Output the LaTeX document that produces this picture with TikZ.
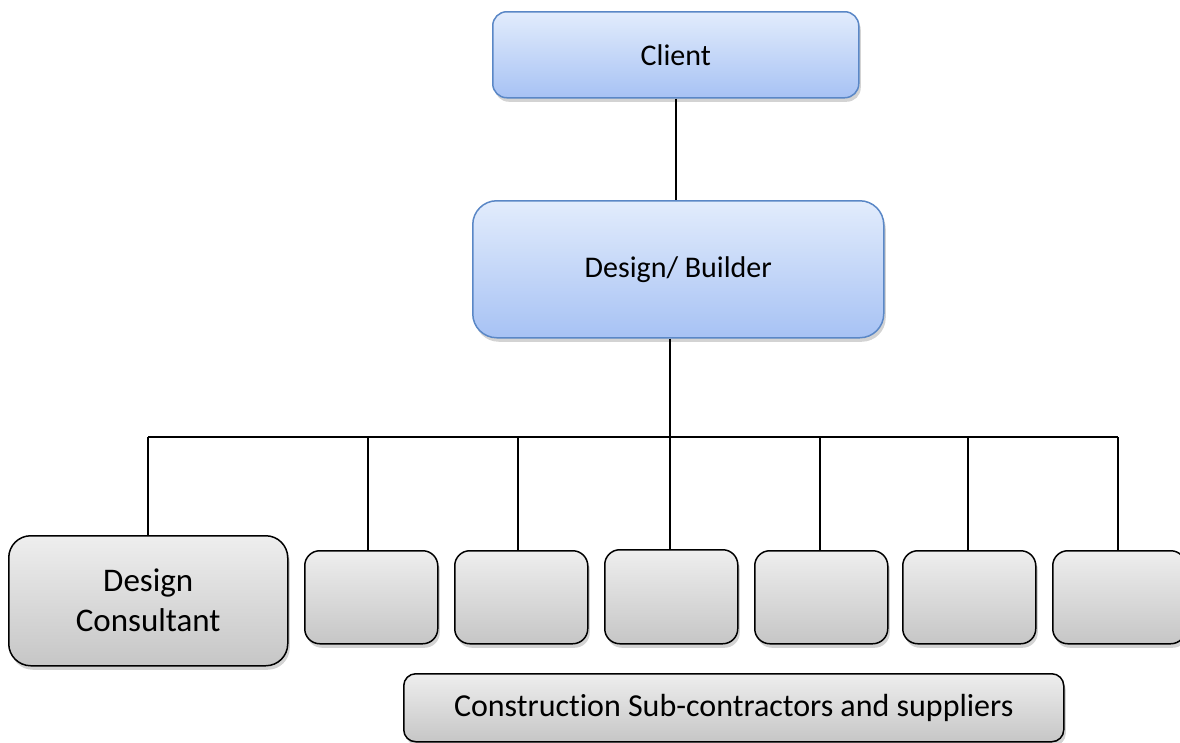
\documentclass[tikz,border=0pt]{standalone}
\usepackage{fontspec}
\setmainfont[Ligatures=NoCommon]{Carlito}
\usetikzlibrary{shadows}
\definecolor{bluetop}{HTML}{E2ECFC}
\definecolor{bluebot}{HTML}{A7C2F4}
\definecolor{blueedge}{HTML}{5A87C6}
\definecolor{greytop}{HTML}{EEEEEE}
\definecolor{greybot}{HTML}{C6C6C6}
\tikzset{
  shad/.style={drop shadow={opacity=0.35,shadow xshift=2pt,shadow yshift=-4pt}},
  bluebox/.style={draw=blueedge,line width=1.5pt,top color=bluetop,bottom color=bluebot,
    shad,inner sep=0pt,anchor=north west,font=\fontsize{30}{36}\selectfont},
  greybox/.style={draw=black,line width=1.5pt,top color=greytop,bottom color=greybot,
    shad,inner sep=0pt,anchor=north west,align=center},
  conn/.style={draw=black,line width=1.5pt}
}
\begin{document}
\begin{tikzpicture}[x=1pt,y=-1pt]
\useasboundingbox (0,0) rectangle (1180,742);
\node[bluebox,rounded corners=14pt,minimum width=366pt,minimum height=86pt] (client) at (492,11) {Client};
\node[bluebox,rounded corners=24pt,minimum width=411pt,minimum height=137pt] (db) at (472,200) {Design/ Builder};
\node[greybox,rounded corners=22pt,minimum width=279pt,minimum height=130pt,font=\fontsize{33}{40}\selectfont] (dc) at (8,535) {Design\\Consultant};
\node[greybox,rounded corners=15pt,minimum width=133pt,minimum height=93pt] (s1) at (304,550) {};
\node[greybox,rounded corners=15pt,minimum width=133pt,minimum height=93pt] (s2) at (454,550) {};
\node[greybox,rounded corners=15pt,minimum width=133pt,minimum height=94pt] (s3) at (604,549) {};
\node[greybox,rounded corners=15pt,minimum width=133pt,minimum height=93pt] (s4) at (754,550) {};
\node[greybox,rounded corners=15pt,minimum width=133pt,minimum height=93pt] (s5) at (902,550) {};
\node[greybox,rounded corners=15pt,minimum width=133pt,minimum height=93pt] (s6) at (1052,550) {};
\node[greybox,rounded corners=12pt,minimum width=660pt,minimum height=68pt,font=\fontsize{32}{38}\selectfont] (csub) at (403,673) {Construction Sub-contractors and suppliers};
\coordinate (top) at (676,97);
\coordinate (busM) at (670,437);
\coordinate (busL) at (148,437);
\coordinate (busR) at (1118,437);
\coordinate (d1) at (368,437);
\coordinate (d2) at (518,437);
\coordinate (d4) at (820,437);
\coordinate (d5) at (968,437);
\draw[conn] (top |- client.south) -- (top |- db.north);
\draw[conn] (busM |- db.south) -- (busM);
\draw[conn] (busL) -- (busR);
\draw[conn] (busL) -- (busL |- dc.north);
\draw[conn] (d1) -- (d1 |- s1.north);
\draw[conn] (d2) -- (d2 |- s2.north);
\draw[conn] (busM) -- (busM |- s3.north);
\draw[conn] (d4) -- (d4 |- s4.north);
\draw[conn] (d5) -- (d5 |- s5.north);
\draw[conn] (busR) -- (busR |- s6.north);
\end{tikzpicture}
\end{document}
